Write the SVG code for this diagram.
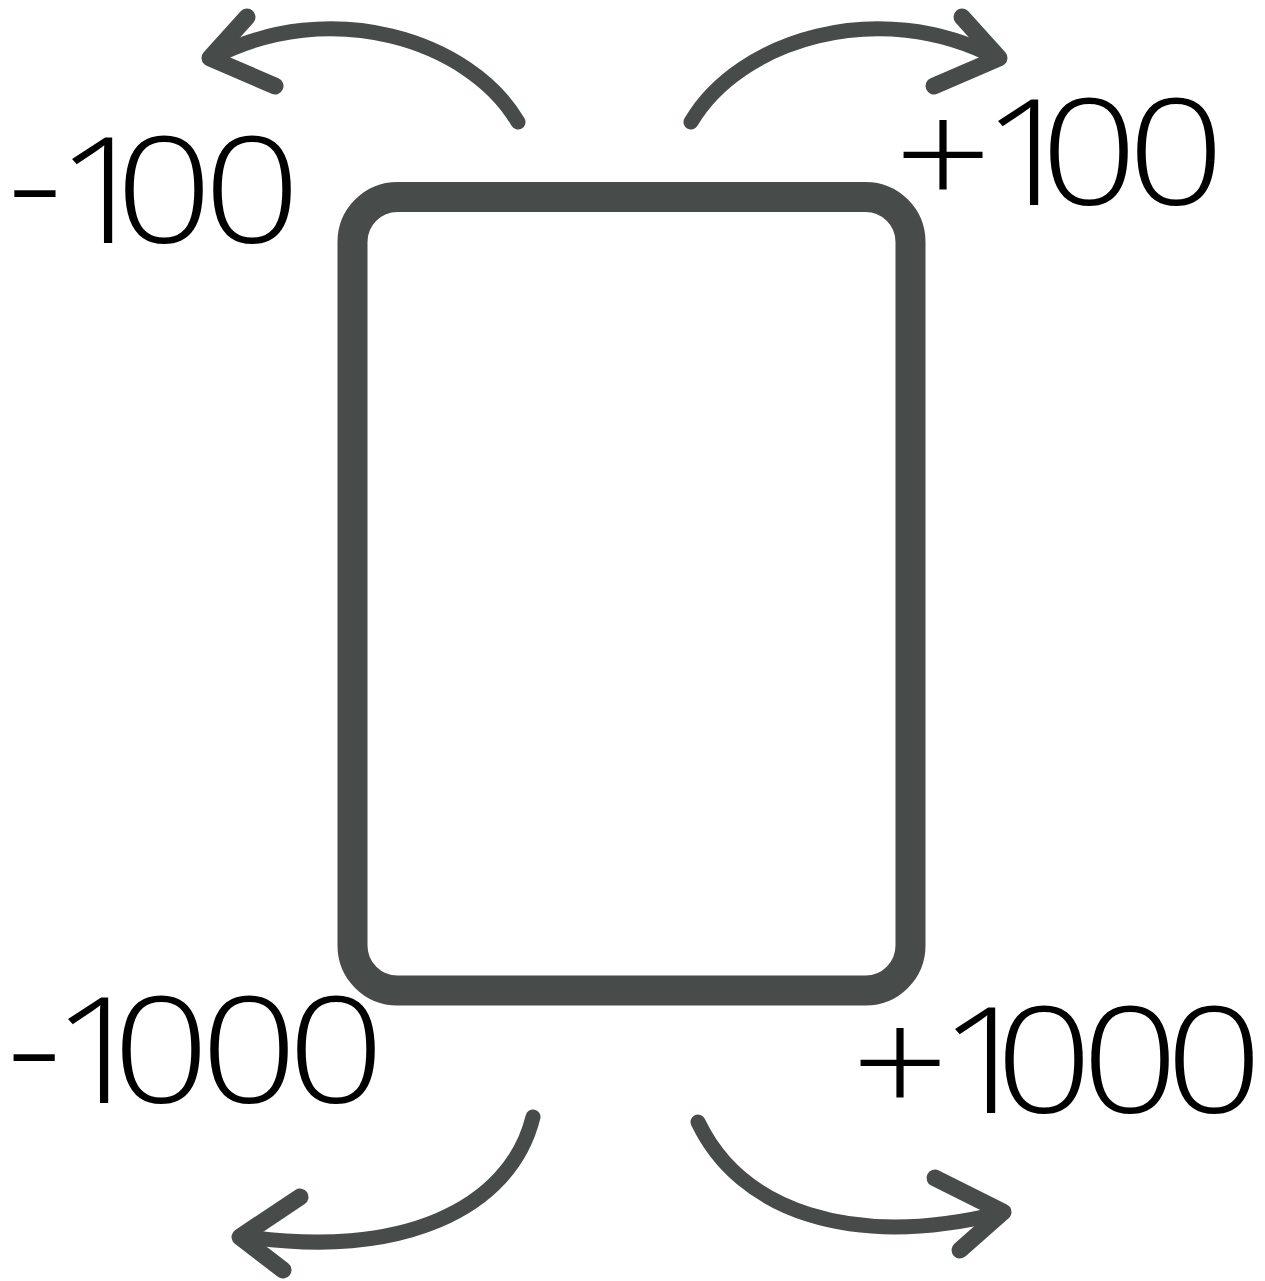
<svg xmlns="http://www.w3.org/2000/svg" width="1265" height="1281" viewBox="0 0 1265 1281">
<style>
.card{fill:#ffffff;stroke:#474b4a;stroke-width:30}
.shaft{fill:none;stroke:#474b4a;stroke-width:15;stroke-linecap:round}
.head{fill:none;stroke:#474b4a;stroke-width:17;stroke-linecap:round;stroke-linejoin:round}
.lbl{font-family:"Open Sans","Noto Sans","DejaVu Sans",sans-serif;font-weight:300;font-size:148px;fill:#000000;text-anchor:middle}
</style>
<rect width="1265" height="1281" fill="#ffffff"/>
<g id="card">
<rect class="card" x="352.5" y="197" width="558" height="793.5" rx="45" ry="45"/>
</g>
<g id="connectors">
<g id="arrow-top-left">
<path class="shaft" d="M518,122 C470,40 330,-4 212,58"/>
<polyline class="head" points="247,17 210,58 275,86"/>
</g>
<g id="arrow-top-right" transform="translate(1209,0) scale(-1,1)">
<path class="shaft" d="M518,122 C470,40 330,-4 212,58"/>
<polyline class="head" points="247,17 210,58 275,86"/>
</g>
<g id="arrow-bottom-left">
<path class="shaft" d="M533,1117 C510,1210 400,1260 242,1236"/>
<polyline class="head" points="300,1197 240,1237 283,1270"/>
</g>
<g id="arrow-bottom-right">
<path class="shaft" d="M698,1122 C740,1210 850,1250 1001,1213"/>
<polyline class="head" points="935,1178 1003,1212 960,1250"/>
</g>
</g>
<g id="label-minus-100" transform="scale(1.15,1)">
<text class="lbl" x="30.4 60.9 90.4 142.6 219.1" y="234 243 243 243 243">- 100</text>
</g>
<g id="label-plus-100" transform="scale(1.15,1)">
<text class="lbl" x="820 856.5 895.7 947 1022.6" y="207 205 205 205 205">+ 100</text>
</g>
<g id="label-minus-1000" transform="scale(1.15,1)">
<text class="lbl" x="29.6 56.5 87 140 216.5 292.2" y="1098 1103 1103 1103 1103 1103">- 1000</text>
</g>
<g id="label-plus-1000" transform="scale(1.15,1)">
<text class="lbl" x="782.6 821.7 858.3 907.8 982.6 1055.7" y="1115 1113 1113 1113 1113 1113">+ 1000</text>
</g>
</svg>
